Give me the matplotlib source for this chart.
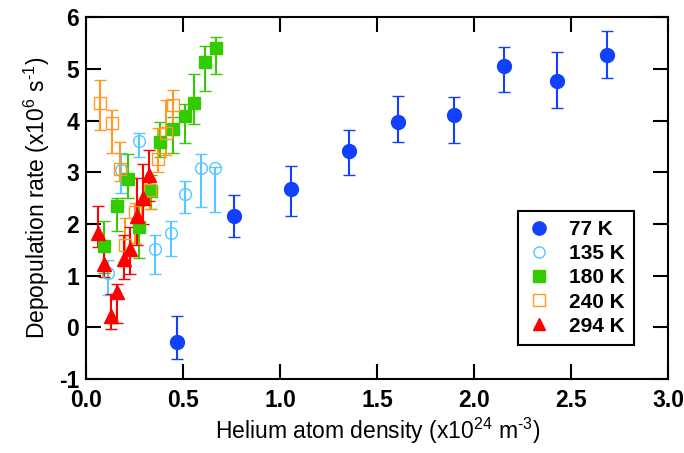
import matplotlib
matplotlib.use("Agg")
import matplotlib.pyplot as plt
from matplotlib.lines import Line2D

plt.rcParams["font.family"] = ["Liberation Sans", "DejaVu Sans"]
plt.rcParams["mathtext.fontset"] = "custom"
plt.rcParams["mathtext.rm"] = "Liberation Sans"
plt.rcParams["mathtext.it"] = "Liberation Sans"

# 77 K
x_77 = [0.47, 0.763, 1.058, 1.352, 1.608, 1.897, 2.155, 2.428, 2.684]
y_77 = [-0.29, 2.16, 2.67, 3.42, 3.97, 4.11, 5.06, 4.77, 5.26]
hi_77 = [0.23, 2.56, 3.12, 3.82, 4.48, 4.46, 5.43, 5.33, 5.73]
lo_77 = [-0.61, 1.74, 2.16, 2.94, 3.58, 3.57, 4.56, 4.25, 4.82]

# 135 K
x_135 = [0.115, 0.18, 0.273, 0.356, 0.437, 0.51, 0.593, 0.665]
y_135 = [1.06, 3.05, 3.61, 1.52, 1.82, 2.58, 3.08, 3.08]
hi_135 = [1.31, 3.38, 3.77, 1.79, 2.05, 2.84, 3.36, 3.10]
lo_135 = [0.63, 2.60, 3.30, 1.03, 1.38, 2.21, 2.32, 2.24]

# 180 K
x_180 = [0.09, 0.158, 0.215, 0.27, 0.333, 0.381, 0.445, 0.51, 0.555, 0.61, 0.668]
y_180 = [1.58, 2.35, 2.87, 1.95, 2.63, 3.59, 3.83, 4.08, 4.34, 5.14, 5.40]
hi_180 = [2.05, 2.50, 3.35, 2.35, 2.95, 3.97, 4.07, 4.32, 4.91, 5.45, 5.61]
lo_180 = [1.05, 1.87, 2.51, 1.35, 2.30, 3.30, 3.38, 3.56, 3.94, 4.58, 4.91]

# 240 K
x_240 = [0.072, 0.132, 0.172, 0.2, 0.253, 0.33, 0.37, 0.412, 0.445]
y_240 = [4.34, 3.96, 3.07, 1.60, 2.24, 2.66, 3.25, 3.77, 4.30]
hi_240 = [4.79, 4.21, 3.58, 2.12, 2.40, 2.90, 3.85, 4.40, 4.59]
lo_240 = [3.81, 3.37, 2.84, 1.18, 1.63, 2.30, 3.00, 3.34, 3.92]

# 294 K
x_294 = [0.06, 0.094, 0.127, 0.161, 0.197, 0.227, 0.261, 0.295, 0.325]
y_294 = [1.82, 1.22, 0.22, 0.69, 1.33, 1.52, 2.16, 2.50, 2.95]
hi_294 = [2.34, 1.66, 0.65, 0.84, 1.79, 1.95, 2.90, 3.17, 3.43]
lo_294 = [1.56, 0.97, -0.03, 0.09, 0.93, 1.03, 1.60, 2.00, 2.45]

x_ticks = [0.0, 0.5, 1.0, 1.5, 2.0, 2.5, 3.0]
y_ticks = [-1, 0, 1, 2, 3, 4, 5, 6]

series = [
    ("77 K", x_77, y_77, lo_77, hi_77, "#1240ff", "o", True, 10),
    ("135 K", x_135, y_135, lo_135, hi_135, "#55c8ff", "o", False, 8.5),
    ("180 K", x_180, y_180, lo_180, hi_180, "#33cc00", "s", True, 8.5),
    ("240 K", x_240, y_240, lo_240, hi_240, "#ff9922", "s", False, 8.5),
    ("294 K", x_294, y_294, lo_294, hi_294, "#ff0000", "^", True, 9.5),
]

fig, ax = plt.subplots(figsize=(6.84, 4.53), dpi=100)
fig.subplots_adjust(left=0.126, right=0.977, top=0.962, bottom=0.163)

handles = []
for label, xs, ys, lo, hi, color, marker, filled, ms in series:
    yerr = [[y - l for y, l in zip(ys, lo)], [h - y for y, h in zip(ys, hi)]]
    mfc = color if filled else "none"
    ax.errorbar(xs, ys, yerr=yerr, fmt=marker, color=color, mfc=mfc, mec=color,
                ms=ms, mew=1.0, elinewidth=1.5, capsize=4.5, capthick=1.5)
    handles.append(Line2D([], [], ls="none", marker=marker, color=color, mfc=mfc,
                          mec=color, ms=ms - 0.5, mew=1.0, label=label))

ax.set_xlim(0, 3.0)
ax.set_ylim(-1, 6)
ax.set_xticks(x_ticks)
ax.set_xticklabels([f"{t:.1f}" for t in x_ticks])
ax.set_yticks(y_ticks)
ax.set_yticklabels([str(t) for t in y_ticks])

ax.tick_params(direction="in", length=11, width=1.5, top=True, right=True,
               labelsize=16.5)
ax.tick_params(axis="x", pad=7)
ax.tick_params(axis="y", pad=5)
for t in ax.get_xticklabels() + ax.get_yticklabels():
    t.set_fontweight("bold")
for s in ax.spines.values():
    s.set_linewidth(1.5)

ax.set_xlabel(r"Helium atom density (x10$^{24}$ m$^{\text{-}3}$)", fontsize=16.5, labelpad=3)
ax.set_ylabel(r"Depopulation rate (x10$^{6}$ s$^{\text{-}1}$)", fontsize=16.5, labelpad=5)

leg = ax.legend(handles=handles, loc="lower left", bbox_to_anchor=(0.741, 0.094),
                fancybox=False, edgecolor="black", framealpha=1,
                prop={"size": 15, "weight": "bold"}, labelspacing=0.25,
                handletextpad=0.8, borderpad=0.45, handlelength=1.2, borderaxespad=0)
leg.get_frame().set_linewidth(1.5)

fig.savefig("out.png", dpi=100)
